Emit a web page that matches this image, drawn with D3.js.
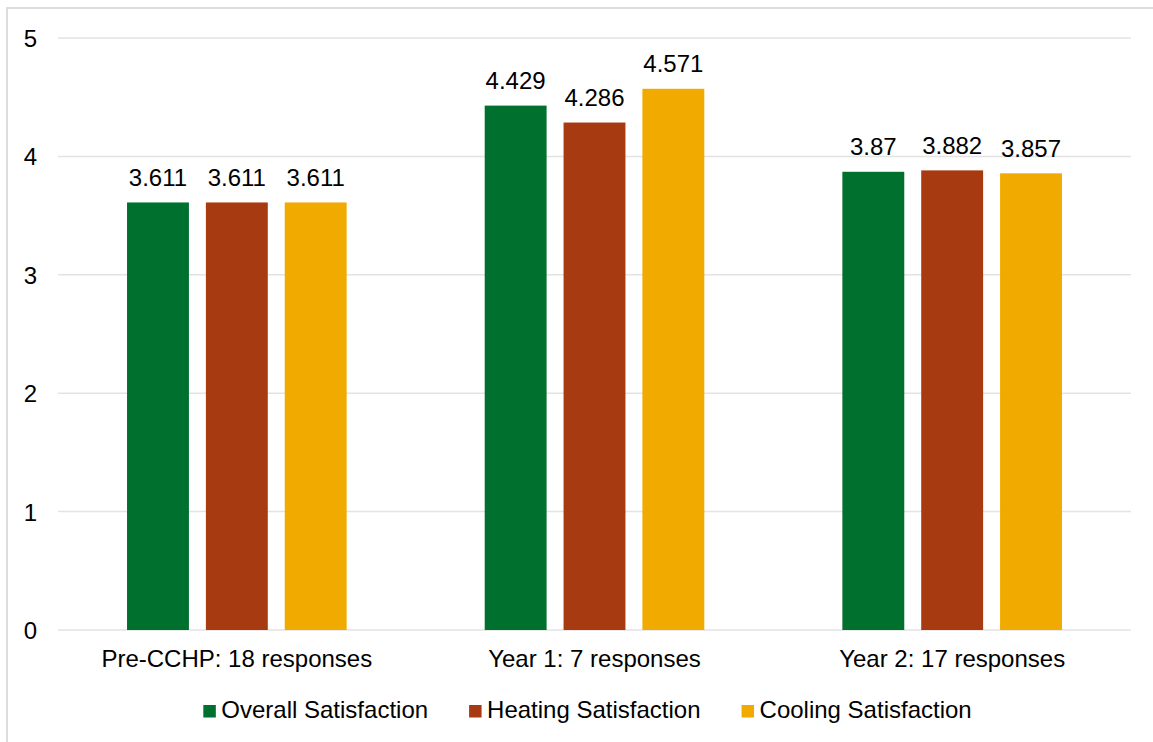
<!DOCTYPE html>
<html>
<head>
<meta charset="utf-8">
<script src="https://cdn.jsdelivr.net/npm/d3@7"></script>
<style>
  html, body { margin: 0; padding: 0; background: #fff; }
  svg { display: block; font-family: "Liberation Sans", Arial, sans-serif; }
</style>
</head>
<body>
<svg id="chart" width="1153" height="742"></svg>
<script>
// Survey groups and mean satisfaction scores
const categories = ["Pre-CCHP: 18 responses", "Year 1: 7 responses", "Year 2: 17 responses"];
const seriesNames = ["Overall Satisfaction", "Heating Satisfaction", "Cooling Satisfaction"];
const overall = [3.611, 4.429, 3.87];
const heating = [3.611, 4.286, 3.882];
const cooling = [3.611, 4.571, 3.857];
const labels = {
  "Overall Satisfaction": ["3.611", "4.429", "3.87"],
  "Heating Satisfaction": ["3.611", "4.286", "3.882"],
  "Cooling Satisfaction": ["3.611", "4.571", "3.857"]
};
const yTicks = [0, 1, 2, 3, 4, 5];
const colors = ["#00702E", "#A83A11", "#F1AA00"];

const seriesValues = [overall, heating, cooling];
const FONT = 24;

const svg = d3.select("#chart");
const W = 1153, H = 742;
const plot = { left: 58, right: 1131, top: 38, bottom: 630 };

// Outer chart frame
svg.append("rect")
  .attr("x", 7).attr("y", 8)
  .attr("width", W + 20).attr("height", H + 20)
  .attr("fill", "#fff")
  .attr("stroke", "#dcdcdc")
  .attr("stroke-width", 2);

const y = d3.scaleLinear().domain([0, 5]).range([plot.bottom, plot.top]);
const x0 = d3.scaleBand().domain(categories).range([plot.left, plot.right]).padding(0);
const bw = x0.bandwidth();
const x1 = d3.scaleBand().domain(seriesNames)
  .range([bw * 0.193, bw * 0.807])
  .paddingInner(0.215).paddingOuter(0);
const color = d3.scaleOrdinal().domain(seriesNames).range(colors);

// Horizontal gridlines
svg.append("g")
  .selectAll("line")
  .data(yTicks)
  .join("line")
  .attr("x1", plot.left).attr("x2", plot.right)
  .attr("y1", d => y(d)).attr("y2", d => y(d))
  .attr("stroke", "#e3e3e3")
  .attr("stroke-width", 1.5);

// Y axis labels
const yAxis = svg.append("g")
  .attr("transform", `translate(${plot.left},0)`)
  .call(d3.axisLeft(y).tickValues(yTicks).tickSize(0).tickPadding(21).tickFormat(d3.format("d")));
yAxis.select(".domain").remove();
yAxis.selectAll("text")
  .attr("font-size", FONT)
  .attr("fill", "#000")
  .attr("dy", "0.35em")
  .attr("font-family", "Liberation Sans, Arial, sans-serif");

// X axis labels
const xAxis = svg.append("g")
  .attr("transform", `translate(0,${plot.bottom})`)
  .call(d3.axisBottom(x0).tickSize(0));
xAxis.select(".domain").remove();
xAxis.selectAll("text")
  .attr("y", 37)
  .attr("dy", null)
  .attr("font-size", FONT)
  .attr("fill", "#000")
  .attr("font-family", "Liberation Sans, Arial, sans-serif");

// Bars and value labels
const rows = categories.map((c, i) => ({
  category: c,
  values: seriesNames.map((s, j) => ({ series: s, value: seriesValues[j][i], label: labels[s][i] }))
}));

const groups = svg.append("g")
  .selectAll("g")
  .data(rows)
  .join("g")
  .attr("transform", d => `translate(${x0(d.category)},0)`);

groups.selectAll("rect")
  .data(d => d.values)
  .join("rect")
  .attr("x", d => x1(d.series))
  .attr("width", x1.bandwidth())
  .attr("y", d => y(d.value))
  .attr("height", d => y(0) - y(d.value))
  .attr("fill", d => color(d.series));

groups.selectAll("text")
  .data(d => d.values)
  .join("text")
  .attr("x", d => x1(d.series) + x1.bandwidth() / 2)
  .attr("y", d => y(d.value) - 16.5)
  .attr("text-anchor", "middle")
  .attr("font-size", FONT)
  .attr("fill", "#000")
  .text(d => d.label);

// Legend
const legend = svg.append("g");
const items = legend.selectAll("g")
  .data(seriesNames)
  .join("g");
items.append("rect")
  .attr("width", 12.5).attr("height", 12.5)
  .attr("y", -13)
  .attr("fill", d => color(d));
items.append("text")
  .attr("x", 18)
  .attr("font-size", FONT)
  .attr("fill", "#000")
  .text(d => d);

const GAP = 41;
let offset = 0;
items.each(function () {
  const g = d3.select(this);
  g.attr("transform", `translate(${offset},0)`);
  offset += 18 + g.select("text").node().getComputedTextLength() + GAP;
});
const legendWidth = offset - GAP;
legend.attr("transform", `translate(${587.5 - legendWidth / 2},718)`);
</script>
</body>
</html>
